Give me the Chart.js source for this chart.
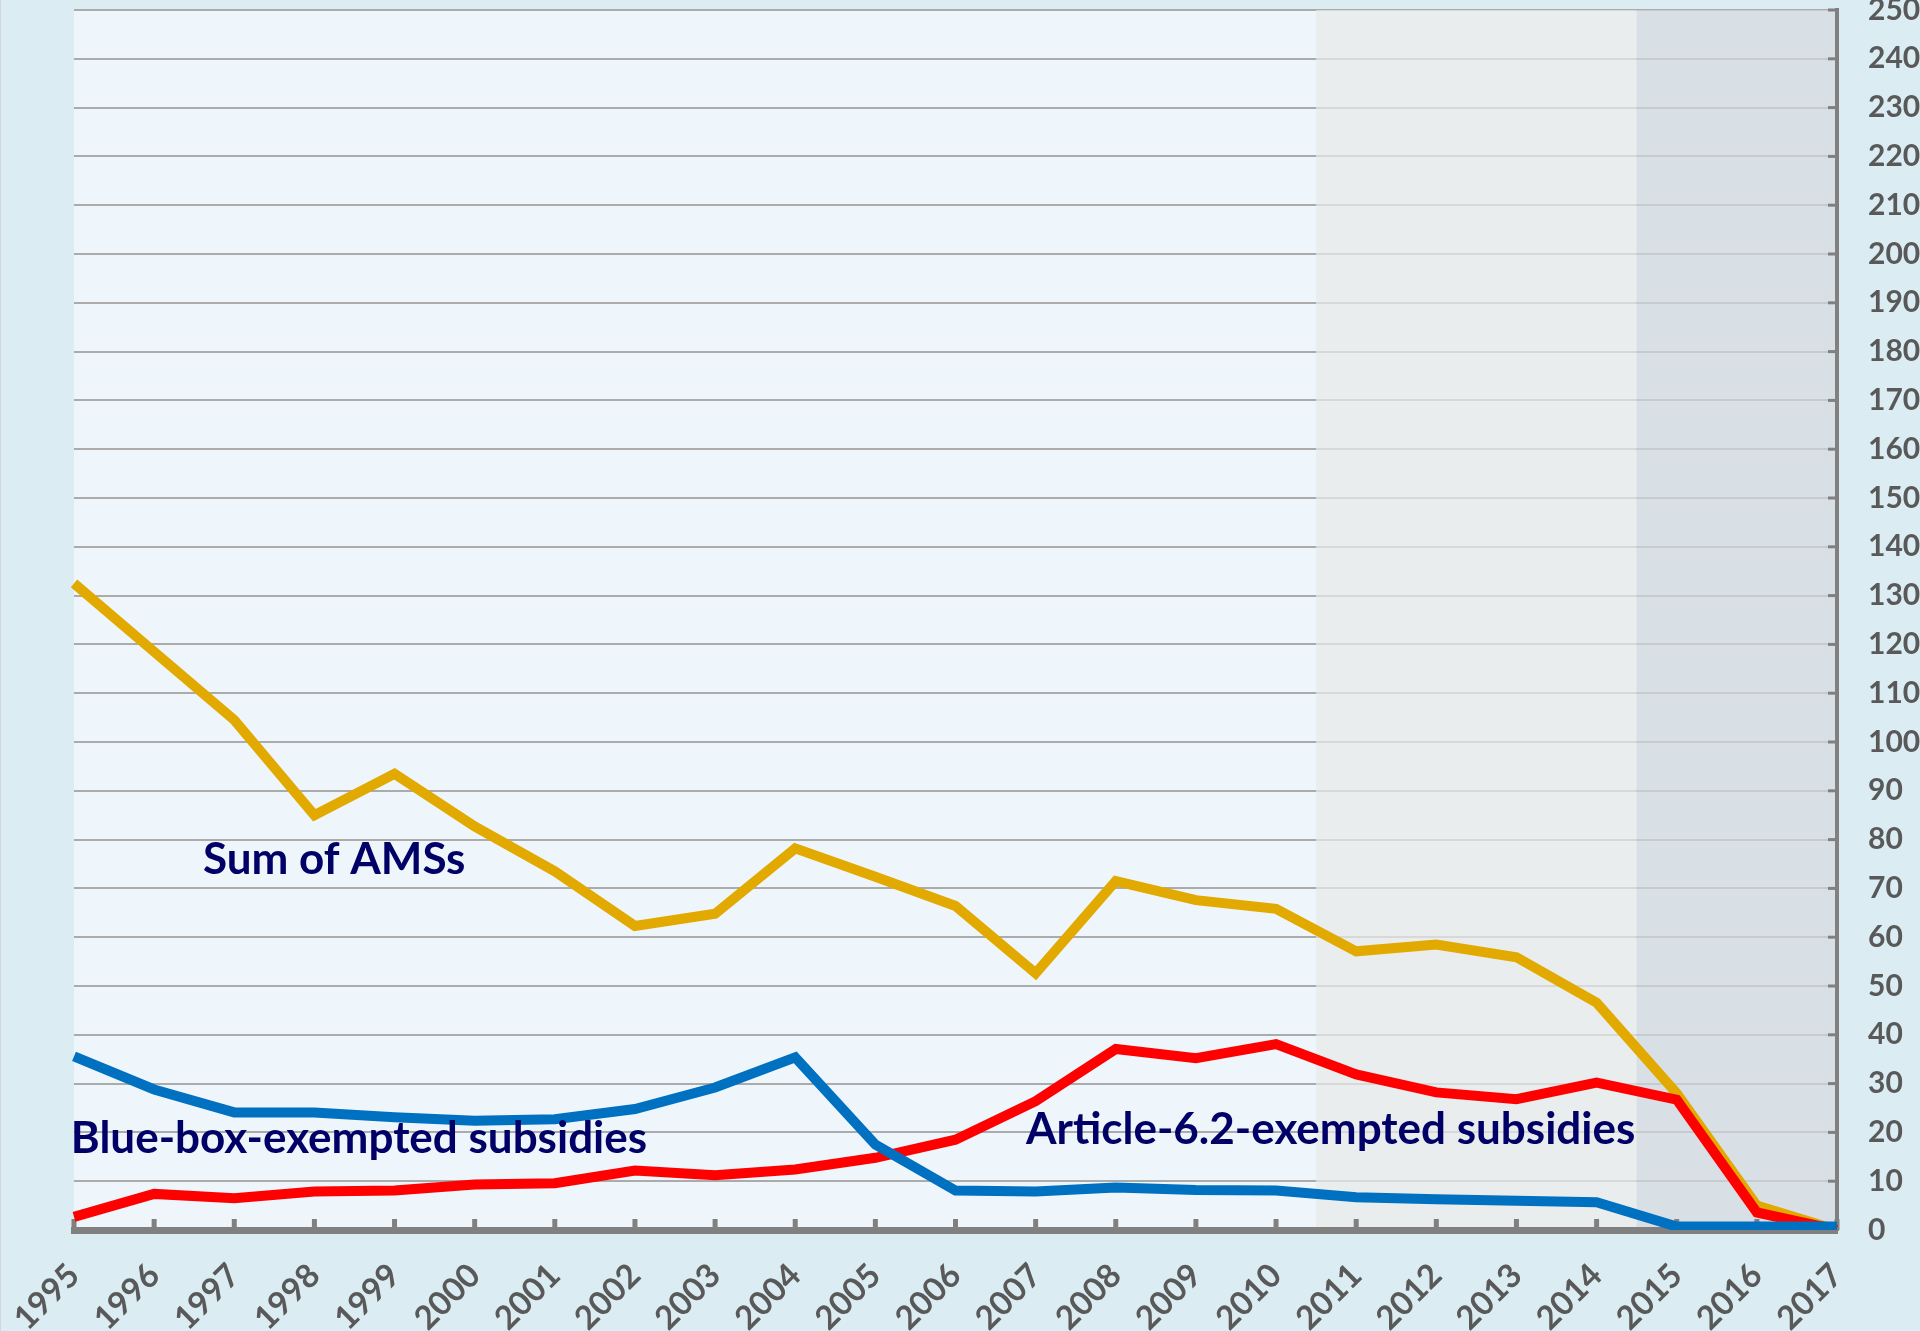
<!DOCTYPE html>
<html>
<head>
<meta charset="utf-8">
<title>AMS and exempted subsidies</title>
<script src="https://cdn.jsdelivr.net/npm/chart.js@4.4.1/dist/chart.umd.min.js"></script>
<style>
  html, body { margin: 0; padding: 0; background: #dbedf3; overflow: hidden; }
  #edge { position: absolute; left: 0; top: 0; width: 1px; height: 1331px; background: #d4d8da; }
</style>
</head>
<body>
<div id="edge"></div>
<canvas id="amsChart" width="1920" height="1331"></canvas>
<script>
// years on the x axis
const years = ['1995', '1996', '1997', '1998', '1999', '2000', '2001', '2002', '2003', '2004', '2005',
               '2006', '2007', '2008', '2009', '2010', '2011', '2012', '2013', '2014', '2015', '2016', '2017'];

// series values
const sumAMS   = [132.5, 118.5, 104.5, 85, 93.5, 82.7, 73.5, 62.3, 64.8, 78.2, 72.4,
                  66.4, 52.6, 71.5, 67.6, 65.8, 57.1, 58.5, 55.9, 46.6, 28, 5, 0];
const art62    = [2.7, 7.4, 6.5, 7.9, 8.1, 9.3, 9.6, 12.2, 11.2, 12.4, 14.8,
                  18.5, 26.4, 37.1, 35.2, 38.1, 31.9, 28.2, 26.8, 30.2, 26.7, 3.6, 0];
const blueBox  = [35.6, 28.8, 24.1, 24.1, 23.1, 22.4, 22.7, 24.8, 29.2, 35.4, 17.5,
                  8.1, 7.9, 8.7, 8.2, 8.1, 6.7, 6.3, 6.0, 5.7, 0.7, 0.7, 0.7];

// y axis
const yMin = 0, yMax = 250, yStep = 10;

// shaded periods (category positions) and in-chart series names
const bandFrom = [15.5, 19.5];
const bandTo   = [19.5, 22];
const labelTexts = ['Sum of AMSs', 'Blue-box-exempted subsidies', 'Article-6.2-exempted subsidies'];
const labelAtX   = [1.61, -0.04, 11.88];
const labelAtY   = [73.0, 15.8, 17.6];

const bandColors = ['rgba(231,233,232,0.72)', 'rgba(209,215,221,0.72)'];
const labelMaxW  = [264, 582, 612];

const decor = {
  id: 'decor',
  beforeDraw(chart) {
    const { ctx, chartArea: a } = chart;
    ctx.save();
    ctx.fillStyle = '#eef6fc';
    ctx.fillRect(a.left, a.top, a.right - a.left, a.bottom - a.top);
    ctx.restore();
  },
  beforeDatasetsDraw(chart) {
    const { ctx, chartArea: a, scales: { x, y } } = chart;
    ctx.save();
    // grey periods sit over the grid
    bandFrom.forEach((f, i) => {
      const x1 = x.getPixelForValue(f);
      const x2 = Math.min(x.getPixelForValue(bandTo[i]), a.right - 2);
      ctx.fillStyle = bandColors[i];
      ctx.fillRect(x1, a.top, x2 - x1, a.bottom - 3 - a.top);
    });
    // tick marks point inwards
    ctx.fillStyle = '#808080';
    x.ticks.forEach((t, i) => {
      const px = x.getPixelForTick(i);
      ctx.fillRect(px - 2.5, a.bottom - 11, 5, 11);
    });
    y.ticks.forEach((t, i) => {
      const py = y.getPixelForTick(i);
      ctx.fillRect(a.right - 9, py - 1.5, 9, 3);
    });
    ctx.restore();
  },
  afterDatasetsDraw(chart) {
    const { ctx, scales: { x, y } } = chart;
    ctx.save();
    ctx.font = 'bold 44px Lato';
    ctx.fillStyle = '#000066';
    ctx.textAlign = 'left';
    ctx.textBaseline = 'alphabetic';
    labelTexts.forEach((txt, i) => {
      ctx.fillText(txt, x.getPixelForValue(labelAtX[i]), y.getPixelForValue(labelAtY[i]), labelMaxW[i]);
    });
    ctx.restore();
  }
};

const ctx = document.getElementById('amsChart').getContext('2d');
new Chart(ctx, {
  type: 'line',
  data: {
    labels: years,
    datasets: [
      { label: 'Sum of AMSs', data: sumAMS, borderColor: '#e2aa00', order: 3 },
      { label: 'Article-6.2-exempted subsidies', data: art62, borderColor: '#ff0000', order: 2 },
      { label: 'Blue-box-exempted subsidies', data: blueBox, borderColor: '#0070c0', order: 1 }
    ]
  },
  options: {
    responsive: false,
    animation: false,
    devicePixelRatio: 1,
    layout: { padding: { left: 74, top: 10, right: 0, bottom: 0 } },
    plugins: { legend: { display: false }, tooltip: { enabled: false } },
    elements: {
      point: { radius: 0 },
      line: { borderWidth: 10, borderJoinStyle: 'miter', borderCapStyle: 'butt', tension: 0, fill: false }
    },
    scales: {
      x: {
        offset: false,
        grid: { display: false },
        border: { color: '#808080', width: 7 },
        ticks: {
          autoSkip: false, maxRotation: 45, minRotation: 45, padding: 18,
          color: '#595959', font: { family: 'Lato', weight: 'bold', size: 33 }
        },
        afterFit: s => { s.height = 101; s.paddingLeft = 0; s.paddingRight = 0; }
      },
      y: {
        position: 'right',
        min: yMin, max: yMax,
        grid: { color: '#ababab', lineWidth: 2, drawTicks: false },
        border: { color: '#808080', width: 4 },
        ticks: {
          stepSize: yStep, padding: 31,
          color: '#595959', font: { family: 'Lato', weight: 'bold', size: 30 }
        },
        afterFit: s => { s.width = 83; s.paddingTop = 0; s.paddingBottom = 0; }
      }
    }
  },
  plugins: [decor]
});
</script>
</body>
</html>
